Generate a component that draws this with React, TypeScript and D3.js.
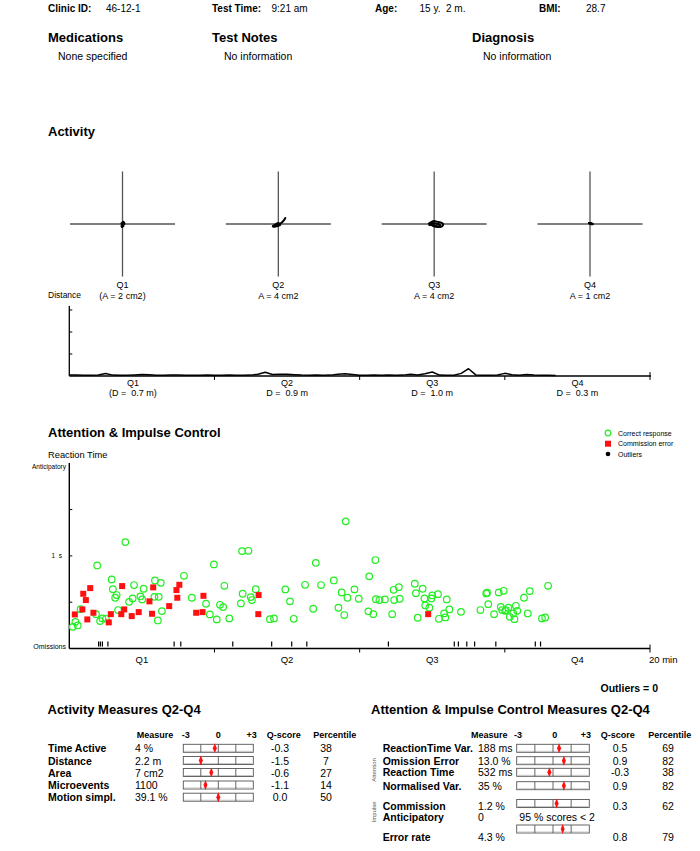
import React, { useEffect, useRef } from 'react';
import * as d3 from 'd3';

const FONT = '"Liberation Sans", Arial, Helvetica, sans-serif';

// ---------- header ----------
const headerLabels = ['Clinic ID:', 'Test Time:', 'Age:', 'BMI:'];
const headerValues = ['46-12-1', '9:21 am', '15 y.  2 m.', '28.7'];
const infoTitles = ['Medications', 'Test Notes', 'Diagnosis'];
const infoValues = ['None specified', 'No information', 'No information'];

// ---------- activity ----------
const quarters = ['Q1', 'Q2', 'Q3', 'Q4'];
const areaLabels = ['(A = 2 cm2)', 'A = 4 cm2', 'A = 4 cm2', 'A = 1 cm2'];
const distanceLabels = ['(D =  0.7 m)', 'D =  0.9 m', 'D =  1.0 m', 'D =  0.3 m'];

// head movement traces (mm offsets from centre) per quarter
const traceQ1 = [[0, -3], [1, -1], [-1, 0], [1, 1], [0, 3], [-1, 2], [1, -2], [2, 0], [-1, -1], [0, 1], [1, 2], [-1, 1]];
const traceQ2 = [[-6, 2], [-3, 1], [0, 0], [3, -1], [5, -3], [7, -6], [4, -2], [1, 0], [-2, 1], [-5, 3], [-1, 2], [2, 1], [0, -1], [-4, 1], [-6, 3]];
const traceQ3 = [[-6, 0], [-3, -2], [0, -3], [4, -2], [8, -1], [9, 1], [6, 3], [2, 2], [-2, 1], [-5, 1], [-2, -1], [3, 0], [6, 1], [4, 3], [-1, 2], [-4, 0]];
const traceQ4 = [[-2, -1], [1, -1], [3, 0], [0, 0], [-1, -1]];
const traces = [traceQ1, traceQ2, traceQ3, traceQ4];

// distance moved per 0.25-minute bin (m)
const distanceValues = [
  0.04, 0.04, 0.03, 0.03, 0.05, 0.11, 0.04, 0.03, 0.03, 0.05, 0.07, 0.06, 0.03, 0.03, 0.05, 0.04,
  0.03, 0.03, 0.03, 0.04, 0.03, 0.03, 0.04, 0.03, 0.03, 0.04, 0.08, 0.17, 0.07, 0.08, 0.08, 0.06,
  0.04, 0.03, 0.05, 0.03, 0.04, 0.08, 0.10, 0.07, 0.03, 0.03, 0.04, 0.03, 0.04, 0.03, 0.04, 0.08,
  0.05, 0.10, 0.18, 0.04, 0.03, 0.03, 0.12, 0.33, 0.05, 0.03, 0.03, 0.05, 0.12, 0.06, 0.03, 0.07,
  0.04, 0.03, 0.03, 0.02,
];
const distanceBinMinutes = 0.25;
const distanceTicks = [1, 2, 3];

// ---------- attention ----------
const correctTimes = [
  0.12, 0.21, 0.29, 0.39, 0.92, 0.96, 1.06, 1.14, 1.26, 1.46, 1.50, 1.58, 1.63, 1.68, 1.93, 2.06, 2.18, 2.23,
  2.45, 2.51, 2.56, 2.93, 2.95, 3.08, 3.05, 3.15, 3.19, 3.95, 4.22, 4.71, 4.84, 4.98, 5.08, 5.19, 5.30, 5.34,
  5.51, 5.91, 5.95, 5.97, 6.17, 6.25, 6.29, 6.42, 6.91, 7.05, 7.44, 7.60, 7.73, 8.12, 8.40, 8.49, 8.67, 9.11,
  9.27, 9.38, 9.47, 9.52, 9.58, 9.82, 9.97, 10.30, 10.33, 10.47, 10.54, 10.56, 10.68, 10.87, 11.12, 11.17, 11.19,
  11.35, 11.38, 11.90, 11.94, 12.00, 12.17, 12.23, 12.26, 12.40, 12.47, 12.50, 12.70, 12.73, 12.91, 12.95, 13.00,
  13.09, 13.49, 14.16, 14.36, 14.39, 14.43, 14.63, 14.79, 14.86, 14.96, 14.91, 15.01, 15.04, 15.12, 15.17, 15.29,
  15.33, 15.38, 15.43, 15.66, 15.79, 15.86, 16.28, 16.39, 16.49,
];
const correctRT = [
  234, 288, 249, 425, 371, 897, 296, 325, 321, 746, 641, 548, 577, 415, 1149, 504, 541, 685,
  563, 530, 645, 558, 735, 558, 303, 709, 404, 785, 548, 483, 368, 908, 314, 472, 447, 677,
  325, 487, 1052, 591, 1055, 555, 523, 641, 317, 325, 638, 509, 321, 688, 429, 925, 685, 735,
  440, 606, 361, 1373, 548, 638, 537, 401, 779, 371, 955, 533, 523, 530, 371, 634, 523,
  663, 537, 699, 598, 332, 645, 541, 465, 440, 541, 573, 587, 321, 379, 336, 530,
  422, 396, 415, 595, 602, 479, 371, 606, 450, 623, 415, 407, 415, 440, 342, 379,
  317, 461, 407, 548, 379, 620, 325, 336, 677,
];
const commissionTimes = [
  0.19, 0.45, 0.48, 0.57, 0.62, 0.72, 0.83, 1.36, 1.43, 1.79, 1.82, 1.89, 2.15, 2.39, 2.76, 2.85, 2.89,
  3.44, 3.69, 3.72, 3.79, 4.37, 4.59, 4.62, 6.52, 6.51, 12.36,
];
const commissionRT = [
  368, 422, 591, 523, 314, 652, 386, 282, 371, 371, 674, 422, 350, 393, 509, 375, 660,
  458, 631, 548, 688, 386, 393, 569, 577, 371, 371,
];
const omissionTimes = [1.01, 1.07, 1.14, 1.33, 3.61, 3.84, 5.63, 6.97, 7.66, 8.18, 10.99, 13.26, 13.40, 13.69, 13.96, 14.69, 16.05, 16.23];
const rtTicks = [500, 1000, 1500];
const legendLabels = ['Correct response', 'Commission error', 'Outliers'];

// ---------- tables ----------
const tableHeader = ['Measure', '-3', '0', '+3', 'Q-score', 'Percentile'];
const actNames = ['Time Active', 'Distance', 'Area', 'Microevents', 'Motion simpl.'];
const actMeasures = ['4 %', '2.2 m', '7 cm2', '1100', '39.1 %'];
const actQ = [-0.3, -1.5, -0.6, -1.1, 0.0];
const actPct = [38, 7, 27, 14, 50];

const attNames = ['ReactionTime Var.', 'Omission Error', 'Reaction Time', 'Normalised Var.', 'Commission', 'Anticipatory', 'Error rate'];
const attMeasures = ['188 ms', '13.0 %', '532 ms', '35 %', '1.2 %', '0', '4.3 %'];
const attQ: (number | null)[] = [0.5, 0.9, -0.3, 0.9, 0.3, null, 0.8];
const attPct: (number | null)[] = [69, 82, 38, 82, 62, null, 79];
const anticipatoryNote = '95 % scores < 2';

const GREEN = '#22ee22';
const RED = '#ff1010';

function QBox({ x0, x1, cy, q }: { x0: number; x1: number; cy: number; q: number }) {
  const s = d3.scaleLinear().domain([-3, 3]).range([x0, x1]);
  const h = 8;
  const mx = s(q);
  return (
    <g>
      <rect x={x0} y={cy - h / 2} width={x1 - x0} height={h} fill="#fff" stroke="#555" strokeWidth={0.9} />
      <line x1={x0 + 1} x2={x1 - 1} y1={cy + h / 2 - 1} y2={cy + h / 2 - 1} stroke="#bbb" strokeWidth={0.8} />
      {[-1.5, 0, 1.5].map((v) => (
        <line key={v} x1={s(v)} x2={s(v)} y1={cy - h / 2} y2={cy + h / 2} stroke="#555" strokeWidth={0.9} />
      ))}
      <path d={`M${mx},${cy - 5} L${mx + 2},${cy} L${mx},${cy + 5} L${mx - 2},${cy} Z`} fill={RED} />
    </g>
  );
}

export default function App() {
  const ref = useRef<SVGSVGElement>(null);
  useEffect(() => {
    const svg = ref.current;
    if (!svg) return;
    svg.querySelectorAll('text[data-maxw]').forEach((el: any) => {
      const maxw = +el.getAttribute('data-maxw');
      if (el.getComputedTextLength() > maxw) {
        el.setAttribute('textLength', String(maxw));
        el.setAttribute('lengthAdjust', 'spacingAndGlyphs');
      }
    });
  }, []);

  const x = d3.scaleLinear().domain([0, 20]).range([69.3, 650]);
  const yRT = d3.scaleLinear().domain([0, 2000]).range([648.5, 463.3]);
  const yD = d3.scaleLinear().domain([0, 3]).range([376, 310]);
  const cx = d3.scalePoint<string>().domain(quarters).range([122.5, 590]);
  const tr = d3.scaleLinear().domain([-10, 10]).range([-10, 10]);
  const qMid = (i: number) => x(i * 5 + 2.5);
  const traceLine = d3.line<number[]>().x((d) => tr(d[0])).y((d) => tr(d[1])).curve(d3.curveCardinal);
  const distLine = d3
    .line<number>()
    .x((_, i) => x(i * distanceBinMinutes))
    .y((d) => yD(d));

  const headerX = [[48, 106], [212, 271.5], [375, 419.5], [539, 586]];
  const infoX = [[48, 58], [212, 224], [472, 483]];
  const distLabelShift = [-9, 0, 0, 0];

  const actRowY = [748.3, 760.5, 772.5, 785, 797.2];
  const attRowY = [748.3, 760.7, 772.3, 785.7, 806, 817.3, 836.7];
  const attBoxY = [748.3, 760.7, 772.3, 785.7, 803.5, 0, 829];

  return (
    <svg
      ref={ref}
      width={700}
      height={851}
      style={{ position: 'absolute', left: 0, top: 0, background: '#fff' }}
      fontFamily={FONT}
    >
      <rect width={700} height={851} fill="#fff" />
      {/* header */}
      {headerLabels.map((l, i) => (
        <g key={l}>
          <text x={headerX[i][0]} y={12} fontSize={10} fontWeight="bold">{l}</text>
          <text x={headerX[i][1]} y={12} fontSize={10} style={{ whiteSpace: 'pre' }}>{headerValues[i]}</text>
        </g>
      ))}
      {infoTitles.map((t, i) => (
        <g key={t}>
          <text x={infoX[i][0]} y={41.5} fontSize={13} fontWeight="bold">{t}</text>
          <text x={infoX[i][1]} y={60} fontSize={10.5}>{infoValues[i]}</text>
        </g>
      ))}

      {/* Activity */}
      <text x={48} y={135.5} fontSize={13} fontWeight="bold">Activity</text>
      {quarters.map((q, i) => {
        const c = cx(q)!;
        return (
          <g key={q}>
            <line x1={c} x2={c} y1={224 - 52.5} y2={224 + 52.5} stroke="#555" strokeWidth={1.3} />
            <line x1={c - 52.5} x2={c + 52.5} y1={224} y2={224} stroke="#555" strokeWidth={1.3} />
            <path
              d={traceLine(traces[i]) || ''}
              transform={`translate(${c},${224})`}
              fill="none"
              stroke="#000"
              strokeWidth={1.9}
              strokeLinejoin="round"
            />
            <text x={c} y={287.5} fontSize={9} textAnchor="middle">{q}</text>
            <text x={c} y={298.5} fontSize={9} textAnchor="middle">{areaLabels[i]}</text>
          </g>
        );
      })}

      {/* Distance chart */}
      <text x={48} y={298} fontSize={8.5}>Distance</text>
      <line x1={x(0)} x2={x(0)} y1={306} y2={376} stroke="#000" strokeWidth={1.3} />
      {distanceTicks.map((t) => (
        <line key={t} x1={x(0)} x2={x(0) + 3} y1={yD(t)} y2={yD(t)} stroke="#000" strokeWidth={1} />
      ))}
      <path d={distLine(distanceValues) || ''} fill="none" stroke="#000" strokeWidth={1.5} strokeLinejoin="round" />
      <line x1={x(0)} x2={x(20) + 1} y1={376} y2={376} stroke="#000" strokeWidth={1.5} />
      {[5, 10, 15, 20].map((t) => (
        <line key={t} x1={x(t)} x2={x(t)} y1={t === 20 ? 372 : 376} y2={380} stroke="#000" strokeWidth={1} />
      ))}
      {quarters.map((q, i) => (
        <g key={q}>
          <text x={qMid(i) + distLabelShift[i]} y={386} fontSize={9} textAnchor="middle">{q}</text>
          <text x={qMid(i) + distLabelShift[i]} y={396} fontSize={9} textAnchor="middle" style={{ whiteSpace: 'pre' }}>{distanceLabels[i]}</text>
        </g>
      ))}

      {/* Attention & Impulse Control */}
      <text x={48} y={436.5} fontSize={13} fontWeight="bold">Attention &amp; Impulse Control</text>
      <text x={48} y={458} fontSize={9.3}>Reaction Time</text>
      {/* legend */}
      <circle cx={608} cy={433} r={2.8} fill="none" stroke={GREEN} strokeWidth={1.2} />
      <rect x={605} y={440.7} width={6} height={6} fill={RED} />
      <circle cx={608} cy={454} r={2.3} fill="#000" />
      {legendLabels.map((l, i) => (
        <text key={l} x={618} y={[435.5, 446.2, 456.5][i]} fontSize={7}>{l}</text>
      ))}

      {/* axes */}
      <line x1={x(0)} x2={x(0)} y1={463} y2={648.5} stroke="#000" strokeWidth={1.4} />
      {rtTicks.map((t) => (
        <line key={t} x1={x(0)} x2={x(0) + 3} y1={yRT(t)} y2={yRT(t)} stroke="#000" strokeWidth={1} />
      ))}
      <text x={66} y={469} fontSize={6.5} textAnchor="end">Anticipatory</text>
      <text x={62} y={yRT(1000) + 2.5} fontSize={6.5} textAnchor="end" style={{ whiteSpace: 'pre' }}>1  s</text>
      <text x={66} y={648.5} fontSize={7} textAnchor="end">Omissions</text>
      <line x1={x(0)} x2={x(20)} y1={648.5} y2={648.5} stroke="#000" strokeWidth={1.5} />
      {[5, 10, 15, 20].map((t) => (
        <line key={t} x1={x(t)} x2={x(t)} y1={t === 20 ? 644.5 : 648.5} y2={652.5} stroke="#000" strokeWidth={1} />
      ))}
      {quarters.map((q, i) => (
        <text key={q} x={qMid(i)} y={662.5} fontSize={9.5} textAnchor="middle">{q}</text>
      ))}
      <text x={649} y={662.5} fontSize={9.5}>20 min</text>

      {/* omissions */}
      {omissionTimes.map((t, i) => (
        <line key={i} x1={x(t)} x2={x(t)} y1={641.5} y2={646.5} stroke="#000" strokeWidth={1.2} />
      ))}
      {/* correct responses */}
      {correctTimes.map((t, i) => (
        <circle key={i} cx={x(t)} cy={yRT(correctRT[i])} r={3.3} fill="none" stroke={GREEN} strokeWidth={1.2} />
      ))}
      {/* commission errors */}
      {commissionTimes.map((t, i) => (
        <rect key={i} x={x(t) - 3} y={yRT(commissionRT[i]) - 3} width={6} height={6} fill={RED} />
      ))}

      <text x={658} y={692} fontSize={10.5} fontWeight="bold" textAnchor="end">Outliers = 0</text>

      {/* Activity measures table */}
      <text x={47.5} y={714} fontSize={13} fontWeight="bold">Activity Measures Q2-Q4</text>
      <g fontSize={9} fontWeight="bold">
        <text x={136.7} y={738.2}>{tableHeader[0]}</text>
        <text x={181.7} y={738.2}>{tableHeader[1]}</text>
        <text x={218.3} y={738.2} textAnchor="middle">{tableHeader[2]}</text>
        <text x={256.7} y={738.2} textAnchor="end">{tableHeader[3]}</text>
        <text x={266.7} y={738.2}>{tableHeader[4]}</text>
        <text x={313.3} y={738.2}>{tableHeader[5]}</text>
      </g>
      {actNames.map((n, i) => (
        <g key={n}>
          <text x={48} y={actRowY[i] + 4} fontSize={10.5} fontWeight="bold">{n}</text>
          <text x={135} y={actRowY[i] + 4} fontSize={10.5}>{actMeasures[i]}</text>
          <QBox x0={183.3} x1={253.3} cy={actRowY[i]} q={actQ[i]} />
          <text x={280} y={actRowY[i] + 4} fontSize={10.5} textAnchor="middle">{actQ[i].toFixed(1)}</text>
          <text x={326} y={actRowY[i] + 4} fontSize={10.5} textAnchor="middle">{actPct[i]}</text>
        </g>
      ))}

      {/* Attention & impulse measures table */}
      <text x={371} y={714} fontSize={13} fontWeight="bold">Attention &amp; Impulse Control Measures Q2-Q4</text>
      <g fontSize={9} fontWeight="bold">
        <text x={471} y={738.2}>{tableHeader[0]}</text>
        <text x={514} y={738.2}>{tableHeader[1]}</text>
        <text x={554.7} y={738.2} textAnchor="middle">{tableHeader[2]}</text>
        <text x={591} y={738.2} textAnchor="end">{tableHeader[3]}</text>
        <text x={600.7} y={738.2}>{tableHeader[4]}</text>
        <text x={648.3} y={738.2}>{tableHeader[5]}</text>
      </g>
      <text transform="translate(375.5,770) rotate(-90)" fontSize={6} fill="#555" textAnchor="middle">Attention</text>
      <text transform="translate(375.5,812) rotate(-90)" fontSize={6} fill="#555" textAnchor="middle">Impulse</text>
      {attNames.map((n, i) => (
        <g key={n}>
          <text x={382.7} y={attRowY[i] + 4} fontSize={10.5} fontWeight="bold" data-maxw={94}>{n}</text>
          <text x={478} y={attRowY[i] + 4} fontSize={10.5}>{attMeasures[i]}</text>
          {attQ[i] !== null ? (
            <>
              <QBox x0={516.7} x1={589.3} cy={attBoxY[i]} q={attQ[i] as number} />
              <text x={620} y={attRowY[i] + 4} fontSize={10.5} textAnchor="middle">{(attQ[i] as number).toFixed(1)}</text>
              <text x={668} y={attRowY[i] + 4} fontSize={10.5} textAnchor="middle">{attPct[i]}</text>
            </>
          ) : (
            <text x={519.3} y={attRowY[i] + 4} fontSize={10.5}>{anticipatoryNote}</text>
          )}
        </g>
      ))}
    </svg>
  );
}
